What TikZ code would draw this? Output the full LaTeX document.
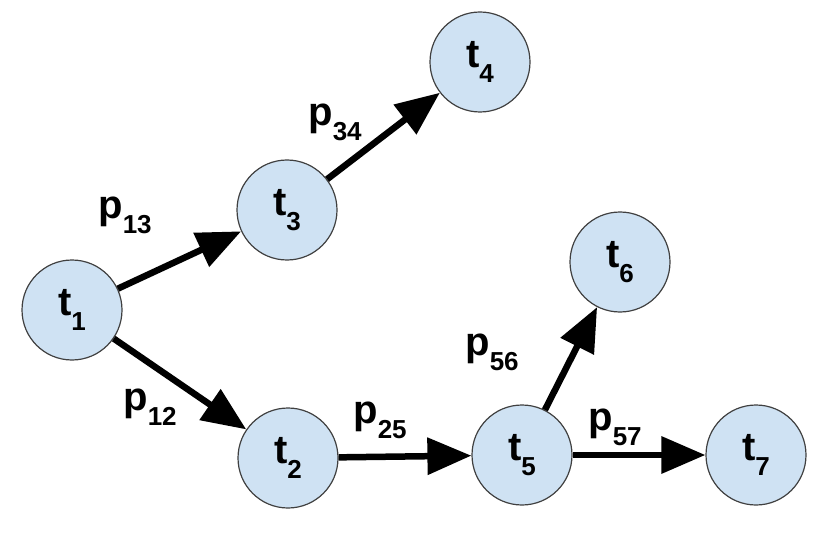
\documentclass[tikz,border=0pt]{standalone}
\usepackage{fontspec}
\setmainfont{Liberation Sans}
\usetikzlibrary{arrows.meta}
\newcommand{\sbx}[1]{\raisebox{-0.38em}{\fontsize{26}{30}\selectfont\bfseries #1}}
\begin{document}
\begin{tikzpicture}[x=1pt,y=-1pt,
  tnode/.style={circle,draw=black!75,line width=1.2pt,fill={rgb,255:red,207;green,226;blue,243},minimum size=100pt,inner sep=0pt,font=\fontsize{40}{44}\selectfont\bfseries},
  edge/.style={line width=6.5pt,-{Triangle[length=44pt,width=36pt]}},
  lab/.style={font=\fontsize{40}{44}\selectfont\bfseries}]
\useasboundingbox (0,0) rectangle (830,540);
\node[tnode] (t1) at (72,310) {t\sbx{1}};
\node[tnode] (t3) at (287,210) {t\sbx{3}};
\node[tnode] (t4) at (480,62) {t\sbx{4}};
\node[tnode] (t2) at (288,458) {t\sbx{2}};
\node[tnode] (t5) at (522,455) {t\sbx{5}};
\node[tnode] (t6) at (620,262) {t\sbx{6}};
\node[tnode] (t7) at (756,455) {t\sbx{7}};
\draw[edge] (t1) -- (t3);
\draw[edge] (t3) -- (t4);
\draw[edge] (t1) -- (t2);
\draw[edge] (t2) -- (t5);
\draw[edge] (t5) -- (t6);
\draw[edge] (t5) -- (t7);
\node[lab] (l13) at (125,215) {p\sbx{13}};
\node[lab] (l34) at (335,122) {p\sbx{34}};
\node[lab] (l12) at (150,407) {p\sbx{12}};
\node[lab] (l25) at (380,420) {p\sbx{25}};
\node[lab] (l56) at (492,352) {p\sbx{56}};
\node[lab] (l57) at (615,427) {p\sbx{57}};
\end{tikzpicture}
\end{document}
